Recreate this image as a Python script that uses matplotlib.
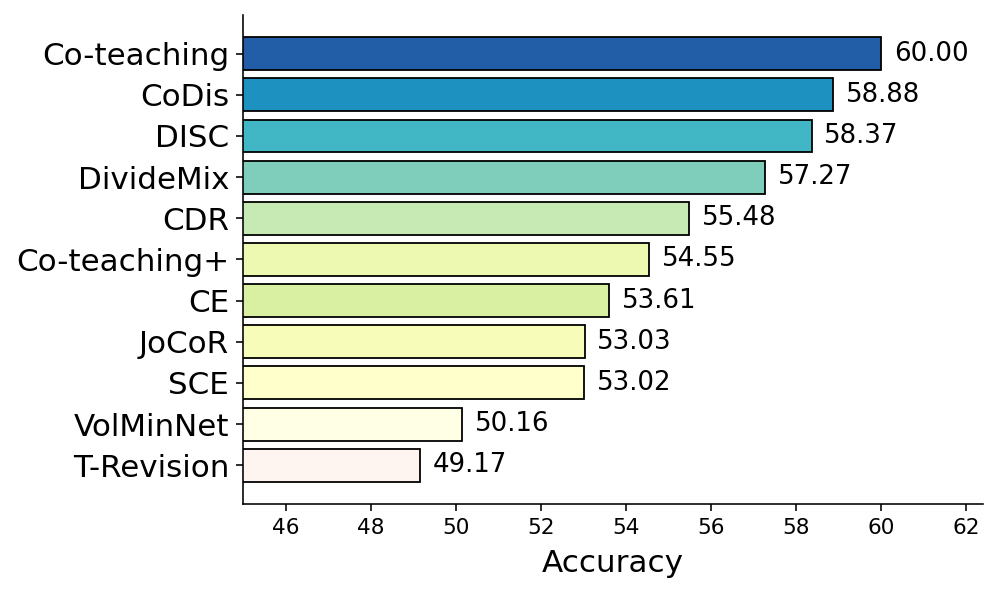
import numpy as np
import matplotlib
matplotlib.use('Agg')
import matplotlib.pyplot as plt

methods = ['Co-teaching', 'CoDis', 'DISC', 'DivideMix', 'CDR', 'Co-teaching+',
           'CE', 'JoCoR', 'SCE', 'VolMinNet', 'T-Revision']
accuracy = [60.00, 58.88, 58.37, 57.27, 55.48, 54.55, 53.61, 53.03, 53.02, 50.16, 49.17]
colors = ['#225ea8', '#1d91c0', '#41b6c4', '#7fcdbb', '#c7e9b4', '#edf8b1',
          '#d9f0a3', '#f7fcb9', '#ffffcc', '#ffffe5', '#fff5f0']

DPI = 144
fig = plt.figure(figsize=(998 / DPI, 596 / DPI), dpi=DPI)
ax = fig.add_axes([0.2435, 0.1544, 0.7415, 0.8205])

ypos = np.arange(len(methods))
bars = ax.barh(ypos, accuracy, height=0.8, color=colors, edgecolor='black', linewidth=0.9)
for y, v in zip(ypos, accuracy):
    ax.text(v + 0.3, y, '%.2f' % v, va='center', ha='left', fontsize=13)

ax.set_yticks(ypos)
ax.set_yticklabels(methods, fontsize=15.5)
ax.invert_yaxis()
ax.set_xlim(45, max(accuracy) * 1.04)
ax.set_xticks(np.arange(46, 63, 2))
ax.tick_params(axis='x', labelsize=10.8)
ax.set_xlabel('Accuracy', fontsize=15.5, labelpad=5.5)

ax.spines['top'].set_visible(False)
ax.spines['right'].set_visible(False)

plt.savefig('out.png', dpi=DPI)
